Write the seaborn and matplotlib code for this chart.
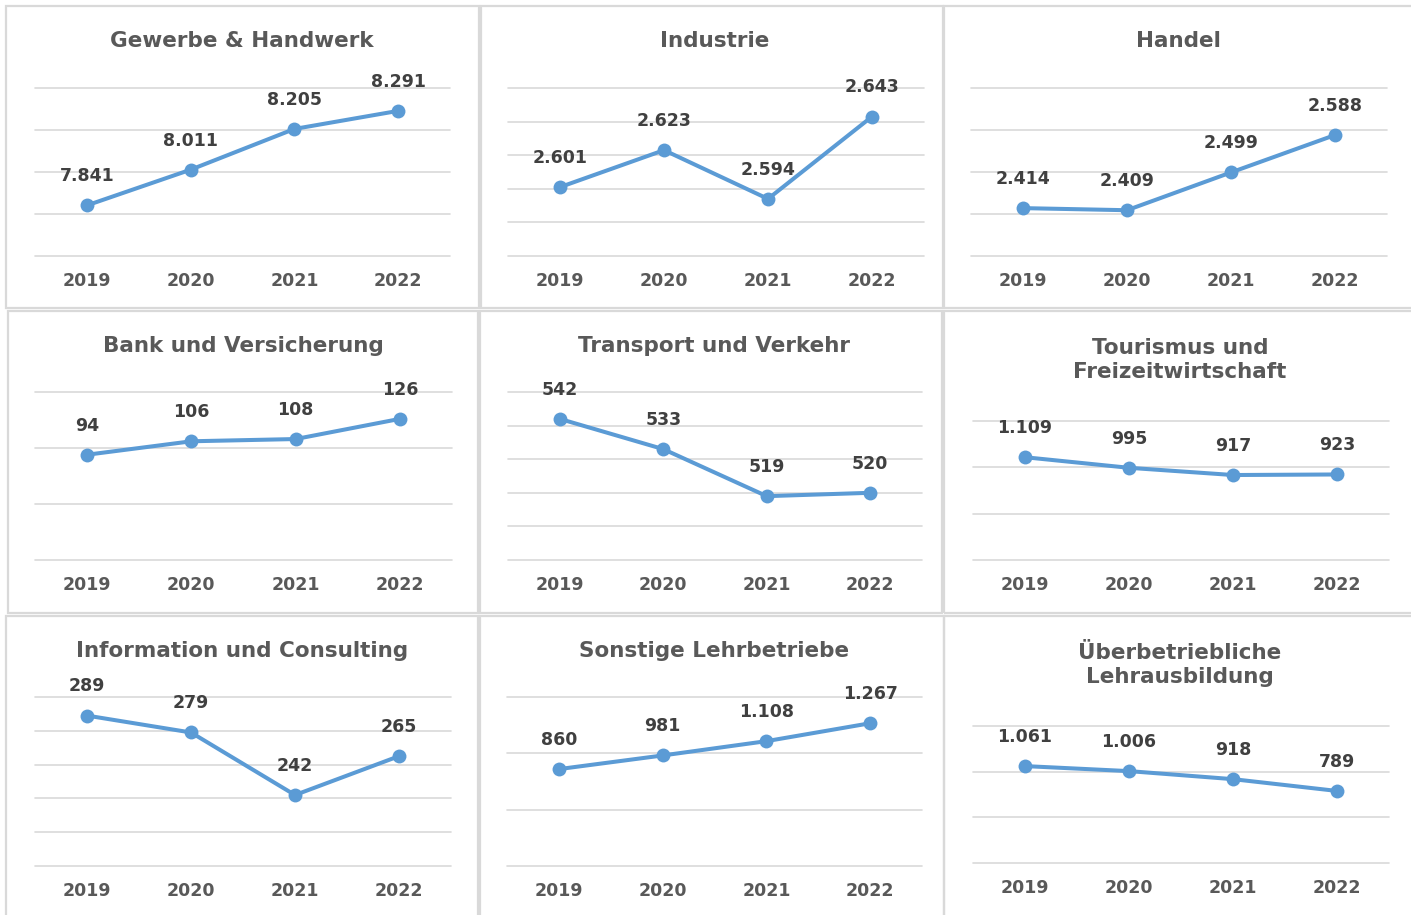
import matplotlib
matplotlib.use("Agg")
import matplotlib.pyplot as plt
import seaborn as sns
import pandas as pd
from matplotlib.patches import Rectangle

# ---------------- data ----------------
years = [2019, 2020, 2021, 2022]

titles = [
    "Gewerbe & Handwerk", "Industrie", "Handel",
    "Bank und Versicherung", "Transport und Verkehr", "Tourismus und\nFreizeitwirtschaft",
    "Information und Consulting", "Sonstige Lehrbetriebe", "Überbetriebliche\nLehrausbildung",
]

gewerbe = [7841, 8011, 8205, 8291]
industrie = [2601, 2623, 2594, 2643]
handel = [2414, 2409, 2499, 2588]
bank = [94, 106, 108, 126]
transport = [542, 533, 519, 520]
tourismus = [1109, 995, 917, 923]
information = [289, 279, 242, 265]
sonstige = [860, 981, 1108, 1267]
ueberbetrieblich = [1061, 1006, 918, 789]

series = [gewerbe, industrie, handel, bank, transport, tourismus,
          information, sonstige, ueberbetrieblich]

# y axis (min, max, step) per panel
y_min = [7600, 2560, 2300, 0, 500, 0, 200, 0, 0]
y_max = [8400, 2660, 2700, 150, 550, 1500, 300, 1500, 1500]
y_step = [200, 20, 100, 50, 10, 500, 20, 500, 500]

# ---------------- layout (pixels) ----------------
W, H = 1411, 915
plot_boxes = [  # x0, x1, ytop, ybot
    (35, 450, 88, 256), (508, 924, 88, 256), (971, 1387, 88, 256),
    (35, 452, 392, 560), (508, 922, 392, 560), (973, 1389, 421, 560),
    (35, 451, 697, 866), (507, 922, 697, 866), (973, 1389, 726, 863),
]
title_pos = [
    (242, 41), (715, 41), (1178, 41),
    (243, 346), (714, 346), (1180, 360),
    (242, 651), (714, 651), (1180, 665),
]
frames = [
    (6, 6, 479, 308), (481, 6, 943, 308), (944, 6, 1416, 308),
    (8, 311, 478, 613), (480, 311, 942, 613), (944, 311, 1416, 613),
    (6, 616, 478, 920), (480, 616, 944, 920), (944, 616, 1416, 920),
]

sns.set_theme(style="white")
plt.rcParams["font.family"] = ["DejaVu Sans"]

LINE = "#5B9BD5"
GRID = "#D9D9D9"
TITLE_C = "#595959"
LABEL_C = "#404040"
TICK_C = "#595959"

fig = plt.figure(figsize=(W / 100, H / 100), dpi=100)
fig.patch.set_facecolor("white")

for (fx0, fy0, fx1, fy1) in frames:
    fig.patches.append(Rectangle((fx0 / W, 1 - fy1 / H), (fx1 - fx0) / W, (fy1 - fy0) / H,
                                 transform=fig.transFigure, fill=False,
                                 edgecolor=GRID, linewidth=1.6))

fmt = lambda v: f"{v:,}".replace(",", ".")

for i, vals in enumerate(series):
    x0, x1, yt, yb = plot_boxes[i]
    ax = fig.add_axes([x0 / W, 1 - yb / H, (x1 - x0) / W, (yb - yt) / H])
    ax.set_facecolor("none")
    df = pd.DataFrame({"Jahr": years, "Wert": vals})
    ticks = list(range(y_min[i], y_max[i] + 1, y_step[i]))
    for t in ticks:
        ax.axhline(t, color=GRID, linewidth=1.2, clip_on=False, zorder=0)
    sns.lineplot(data=df, x="Jahr", y="Wert", ax=ax, color=LINE, linewidth=2.9,
                 marker="o", markersize=10, markeredgewidth=0, zorder=3)
    for xv, yv in zip(years, vals):
        ax.annotate(fmt(yv), (xv, yv), xytext=(0, 21), textcoords="offset points",
                    ha="center", va="center", fontsize=12.5, fontweight="bold",
                    color=LABEL_C, zorder=4)
    ax.set_xlim(years[0] - 0.5, years[-1] + 0.5)
    ax.set_ylim(y_min[i], y_max[i])
    ax.set_xticks(years)
    ax.set_xticklabels([str(y) for y in years], fontsize=12.5, fontweight="bold", color=TICK_C)
    ax.set_yticks([])
    ax.tick_params(axis="x", length=0, pad=11.5)
    ax.set_xlabel("")
    ax.set_ylabel("")
    for s in ax.spines.values():
        s.set_visible(False)
    tx, ty = title_pos[i]
    fig.text(tx / W, 1 - ty / H, titles[i], ha="center", va="center",
             fontsize=15.5, fontweight="bold", color=TITLE_C, linespacing=1.2)

fig.savefig("out.png", dpi=100, facecolor="white")
